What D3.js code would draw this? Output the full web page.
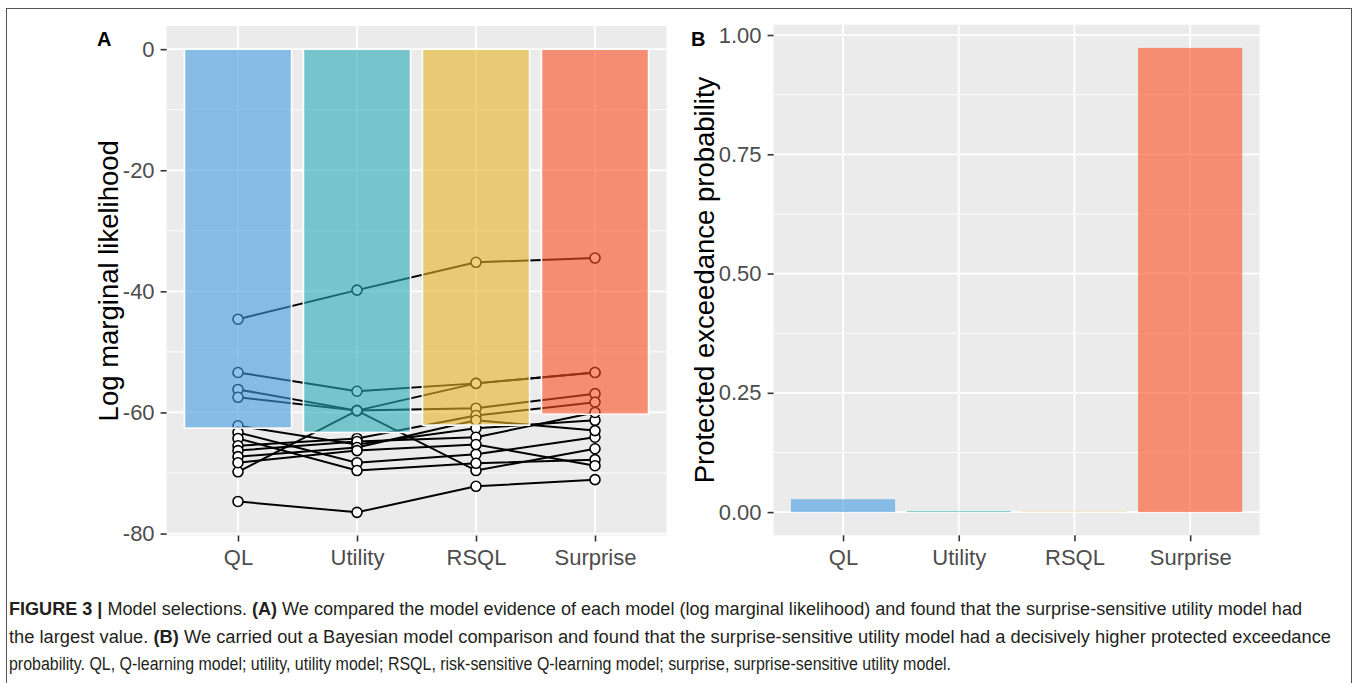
<!DOCTYPE html>
<html>
<head>
<meta charset="utf-8">
<script src="https://cdn.jsdelivr.net/npm/d3@7"></script>
<style>
  body { margin: 0; background: #fff; }
  text { font-family: "Liberation Sans", Arial, Helvetica, sans-serif; }
</style>
</head>
<body>
<svg id="fig" width="1358" height="683"></svg>
<script>
// categories and values
var models = ['QL', 'Utility', 'RSQL', 'Surprise'];
var barColors = ['rgb(65,155,223)', 'rgb(40,170,183)', 'rgb(230,178,37)', 'rgb(252,78,35)'];

var meanLML = [-62.6, -63.3, -62.1, -60.3];
var pxp = [0.027, 0.002, 0.001, 0.973];

// one entry per subject, same order in each model
var lmlQL       = [-44.6, -53.4, -56.2, -57.5, -69.8, -62.2, -63.3, -64.3, -65.5, -66.3, -67.3, -68.3, -74.7];
var lmlUtility  = [-39.8, -56.5, -59.7, -59.7, -59.7, -65.3, -68.3, -69.6, -64.3, -64.8, -65.8, -66.3, -76.5];
var lmlRSQL     = [-35.2, -55.2, -59.3, -69.6, -55.2, -62.6, -66.9, -68.4, -60.5, -64.1, -61.3, -65.3, -72.2];
var lmlSurprise = [-34.5, -53.4, -56.9, -66.0, -53.4, -61.3, -64.1, -67.8, -58.3, -60.0, -63.0, -68.8, -71.1];

var ticksA = [0, -20, -40, -60, -80];
var ticksB = [0, 0.25, 0.5, 0.75, 1];

var barAlpha = 0.6;
var svg = d3.select('#fig');

// outer frame
svg.append('rect')
   .attr('x', 6.5).attr('y', 8.5)
   .attr('width', 1345).attr('height', 720)
   .attr('fill', 'none').attr('stroke', '#555').attr('stroke-width', 1);

function panel(opt) {
	var g = svg.append('g');
	var x = d3.scalePoint().domain(models).range([opt.left, opt.right]).padding(0.6);
	var y = d3.scaleLinear().domain(opt.domain).range([opt.bottom, opt.top]);
	var step = x.step();

	g.append('rect')
	 .attr('x', opt.left).attr('y', opt.top)
	 .attr('width', opt.right - opt.left).attr('height', opt.bottom - opt.top)
	 .attr('fill', '#EBEBEB');

	// minor grid
	var minor = d3.pairs(opt.ticks).map(function(p){ return (p[0] + p[1]) / 2; });
	var lo = d3.min(opt.domain), hi = d3.max(opt.domain);
	var st = Math.abs(opt.ticks[1] - opt.ticks[0]);
	[d3.min(opt.ticks) - st / 2, d3.max(opt.ticks) + st / 2].forEach(function(v){
		if (v > lo && v < hi) minor.push(v);
	});
	g.selectAll('.minor').data(minor).enter().append('line')
	 .attr('x1', opt.left).attr('x2', opt.right)
	 .attr('y1', function(d){ return y(d); }).attr('y2', function(d){ return y(d); })
	 .attr('stroke', '#fff').attr('stroke-width', 0.9);

	// major grid
	g.selectAll('.majory').data(opt.ticks).enter().append('line')
	 .attr('x1', opt.left).attr('x2', opt.right)
	 .attr('y1', function(d){ return y(d); }).attr('y2', function(d){ return y(d); })
	 .attr('stroke', '#fff').attr('stroke-width', 1.8);
	g.selectAll('.majorx').data(models).enter().append('line')
	 .attr('y1', opt.top).attr('y2', opt.bottom)
	 .attr('x1', function(d){ return x(d); }).attr('x2', function(d){ return x(d); })
	 .attr('stroke', '#fff').attr('stroke-width', 1.8);

	if (opt.subjects) {
		var subj = opt.subjects;
		var rows = d3.range(subj[0].length).map(function(i){
			return subj.map(function(s, j){ return [models[j], s[i]]; });
		});
		var line = d3.line().x(function(d){ return x(d[0]); }).y(function(d){ return y(d[1]); });
		g.selectAll('.subj').data(rows).enter().append('path')
		 .attr('d', line).attr('fill', 'none')
		 .attr('stroke', '#000').attr('stroke-width', 2);
		var pts = [];
		rows.forEach(function(r){ r.forEach(function(p){ pts.push(p); }); });
		g.selectAll('.pt').data(pts).enter().append('circle')
		 .attr('cx', function(d){ return x(d[0]); })
		 .attr('cy', function(d){ return y(d[1]); })
		 .attr('r', 5)
		 .attr('fill', '#fff').attr('stroke', '#000').attr('stroke-width', 1.6);
	}

	// bars
	g.selectAll('.bar').data(opt.bars).enter().append('rect')
	 .attr('x', function(d, i){ return x(models[i]) - step * 0.45; })
	 .attr('width', step * 0.9)
	 .attr('y', function(d){ return Math.min(y(d), y(0)); })
	 .attr('height', function(d){ return Math.abs(y(d) - y(0)); })
	 .attr('fill', function(d, i){ return barColors[i]; })
	 .attr('fill-opacity', barAlpha)
	 .attr('stroke', opt.barStroke ? '#fff' : 'none')
	 .attr('stroke-width', 1.6);

	// axes
	var yAxis = d3.axisLeft(y).tickValues(opt.ticks).tickSize(6).tickPadding(6).tickFormat(opt.fmt);
	var ya = g.append('g').attr('transform', 'translate(' + opt.left + ',0)').call(yAxis);
	var xAxis = d3.axisBottom(x).tickSize(6).tickPadding(8);
	var xa = g.append('g').attr('transform', 'translate(0,' + opt.bottom + ')').call(xAxis);
	[ya, xa].forEach(function(a){
		a.select('.domain').remove();
		a.selectAll('.tick line').attr('stroke', '#333').attr('stroke-width', 1.6);
		a.selectAll('.tick text').attr('fill', '#4D4D4D').style('font-size', '22px');
	});

	g.append('text')
	 .attr('transform', 'translate(' + opt.titleX + ',' + ((opt.top + opt.bottom) / 2) + ') rotate(-90)')
	 .attr('text-anchor', 'middle')
	 .style('font-size', '27.5px').attr('fill', '#000')
	 .text(opt.title);

	g.append('text')
	 .attr('x', opt.tagX).attr('y', 46)
	 .style('font-size', '20px').style('font-weight', 'bold')
	 .text(opt.tag);
}

var allA = lmlQL.concat(lmlUtility, lmlRSQL, lmlSurprise, meanLML, [0]);
var loA = d3.min(allA), hiA = 0, padA = (hiA - loA) * 0.05;
panel({
	left: 166.6, right: 666.4, top: 26, bottom: 535.5,
	domain: [loA - padA, hiA + padA],
	ticks: ticksA, fmt: function(d){ return String(d); },
	bars: meanLML, barStroke: true,
	subjects: [lmlQL, lmlUtility, lmlRSQL, lmlSurprise],
	title: 'Log marginal likelihood', titleX: 118, tag: 'A', tagX: 97
});

var hiB = d3.max(pxp), padB = hiB * 0.05;
panel({
	left: 773.6, right: 1259.6, top: 24.7, bottom: 535.3,
	domain: [0 - padB, hiB + padB],
	ticks: ticksB, fmt: d3.format('.2f'),
	bars: pxp, barStroke: false,
	title: 'Protected exceedance probability', titleX: 714, tag: 'B', tagX: 691
});

// caption
var capLines = [
	[['FIGURE 3 | ', true], ['Model selections. ', false], ['(A)', true], [' We compared the model evidence of each model (log marginal likelihood) and found that the surprise-sensitive utility model had', false]],
	[['the largest value. ', false], ['(B)', true], [' We carried out a Bayesian model comparison and found that the surprise-sensitive utility model had a decisively higher protected exceedance', false]],
	[['probability. QL, Q-learning model; utility, utility model; RSQL, risk-sensitive Q-learning model; surprise, surprise-sensitive utility model.', false]]
];
var capWidths = [1293, 1322, 942];
var cap = svg.append('g');
capLines.forEach(function(parts, i){
	var t = cap.append('text')
	   .attr('x', 9).attr('y', 615 + i * 27.5)
	   .attr('textLength', capWidths[i]).attr('lengthAdjust', 'spacingAndGlyphs')
	   .style('font-family', '"Liberation Sans Narrow", "Liberation Sans", Arial, sans-serif')
	   .style('font-size', '18px').attr('fill', '#231F20');
	parts.forEach(function(p){
		t.append('tspan').style('font-weight', p[1] ? 'bold' : 'normal').text(p[0]);
	});
});
</script>
</body>
</html>
